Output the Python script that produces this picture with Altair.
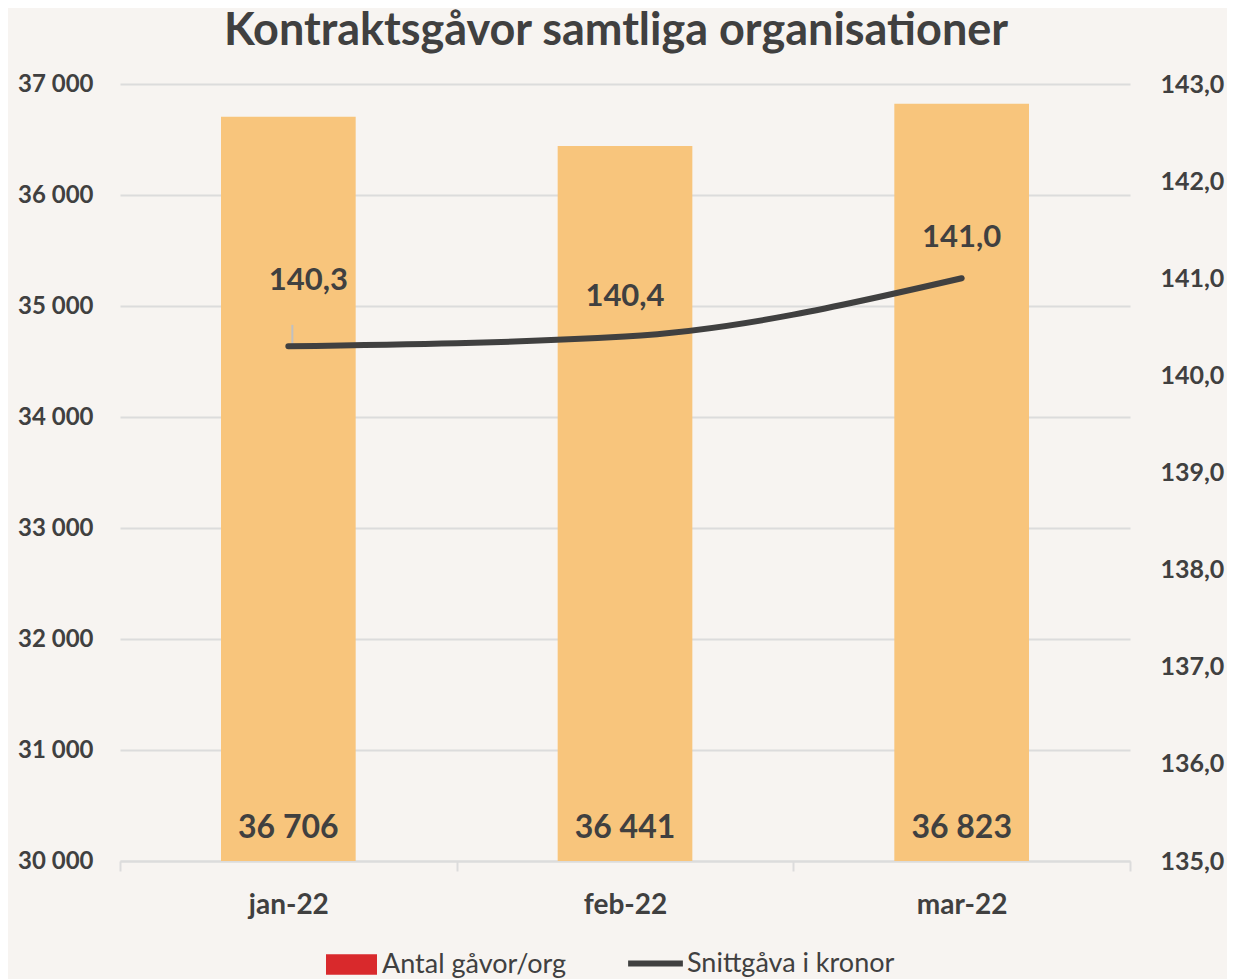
import altair as alt
import pandas as pd

months = ["jan-22", "feb-22", "mar-22"]
gifts = [36706, 36441, 36823]
avg_gift = [140.3, 140.4, 141.0]
left_ticks = [30000, 31000, 32000, 33000, 34000, 35000, 36000, 37000]
right_ticks = [135, 136, 137, 138, 139, 140, 141, 142, 143]
series_names = ["Antal gåvor/org", "Snittgåva i kronor"]

df = pd.DataFrame({"month": months, "gifts": gifts, "avg": avg_gift})

FONT = "Lato"
TXT = "#404040"
BG = "#F7F4F1"
ORANGE = "#F8C57C"
GRID = "#DCDCDC"

x_axis = alt.Axis(
    title=None, labelFontSize=28, labelFont=FONT, labelFontWeight="bold",
    labelColor=TXT, labelPadding=20, tickBand="extent", tickSize=10,
    tickColor=GRID, tickWidth=2, domainColor=GRID, domainWidth=2,
    labelAngle=0, grid=False,
)
x_scale = alt.Scale(paddingInner=0, paddingOuter=0)


def X():
    return alt.X("month:N", sort=months, scale=x_scale, axis=x_axis)


left_scale = alt.Scale(domain=[left_ticks[0], left_ticks[-1]], nice=False, zero=False)
right_scale = alt.Scale(domain=[right_ticks[0], right_ticks[-1]], nice=False, zero=False)

left_axis = alt.Axis(
    title=None, values=left_ticks, domain=False, ticks=False,
    labelFont=FONT, labelFontSize=24, labelFontWeight="bold", labelColor=TXT,
    labelPadding=27, gridColor=GRID, gridWidth=2,
    labelExpr="replace(format(datum.value, ','), ',', ' ')",
)
right_axis = alt.Axis(
    orient="right", title=None, values=right_ticks, domain=False, ticks=False,
    grid=False, labelFont=FONT, labelFontSize=25, labelFontWeight="bold",
    labelColor=TXT, labelPadding=30,
    labelExpr="replace(format(datum.value, '.1f'), '.', ',')",
)

base = alt.Chart(df)

bars = base.mark_bar(color=ORANGE, clip=True, width=alt.RelativeBandSize(0.4)).encode(
    x=X(),
    y=alt.Y("gifts:Q", scale=left_scale, axis=left_axis),
    y2=alt.Y2Datum(left_ticks[0]),
)

# dummy layer for the bar legend entry
legend_bar = base.transform_filter("false").transform_calculate(
    series=f"'{series_names[0]}'"
).mark_bar().encode(
    x=X(),
    y=alt.Y("gifts:Q", scale=left_scale, axis=left_axis),
    fill=alt.Fill(
        "series:N",
        scale=alt.Scale(domain=[series_names[0]], range=["#D9292C"]),
        legend=alt.Legend(
            title=None, orient="none", legendX=206, legendY=855,
            symbolType="M-1,-0.4H1V0.4H-1Z", symbolSize=2601,
            symbolStrokeWidth=0, labelFont=FONT, labelFontSize=27,
            labelColor=TXT, labelOffset=5, labelLimit=400,
        ),
    ),
)

bar_labels = base.transform_calculate(
    lbl="replace(format(datum.gifts, ','), ',', ' ')"
).mark_text(
    font=FONT, fontSize=32, fontWeight="bold", color=TXT, baseline="middle", dy=-33
).encode(
    x=X(),
    y=alt.YDatum(left_ticks[0], scale=left_scale, axis=left_axis),
    text="lbl:N",
)

left_layer = alt.layer(bars, legend_bar, bar_labels)

line = base.transform_calculate(series=f"'{series_names[1]}'").mark_line(
    strokeWidth=6, interpolate="monotone", strokeCap="round"
).encode(
    x=X(),
    y=alt.Y("avg:Q", scale=right_scale, axis=right_axis),
    stroke=alt.Stroke(
        "series:N",
        scale=alt.Scale(domain=[series_names[1]], range=[TXT]),
        legend=alt.Legend(
            title=None, orient="none", legendX=505, legendY=849,
            symbolType="stroke", symbolSize=3000, symbolStrokeWidth=6,
            labelFont=FONT, labelFontSize=27, labelColor=TXT, labelOffset=1,
            labelLimit=400,
        ),
    ),
)

line_label_txt = "replace(format(datum.avg, '.1f'), '.', ',')"
line_labels = base.transform_filter(f"datum.month != '{months[0]}'").transform_calculate(
    lbl=line_label_txt
).mark_text(
    font=FONT, fontSize=31, fontWeight="bold", color=TXT, baseline="middle", dy=-40
).encode(
    x=X(),
    y=alt.Y("avg:Q", scale=right_scale, axis=right_axis),
    text="lbl:N",
)

first_label = base.transform_filter(f"datum.month == '{months[0]}'").transform_calculate(
    lbl=line_label_txt
).mark_text(
    font=FONT, fontSize=31, fontWeight="bold", color=TXT, baseline="middle", dy=-65, dx=20
).encode(
    x=X(),
    y=alt.Y("avg:Q", scale=right_scale, axis=right_axis),
    text="lbl:N",
)

leader = base.transform_filter(f"datum.month == '{months[0]}'").mark_rule(
    color="#C0C0C0", strokeWidth=2, xOffset=4
).encode(
    x=X(),
    y=alt.Y("avg:Q", scale=right_scale, axis=right_axis),
    y2=alt.Y2Datum(140.52),
)

right_layer = alt.layer(leader, line, line_labels, first_label)

chart = alt.layer(left_layer, right_layer).resolve_scale(
    y="independent", fill="independent", stroke="independent"
).properties(
    width=1010,
    height=777,
    title=alt.TitleParams(
        "Kontraktsgåvor samtliga organisationer",
        font=FONT, fontSize=45, fontWeight="bold", color=TXT,
        anchor="middle", offset=18, dx=-9,
    ),
    autosize=alt.AutoSizeParams(type="none"),
    padding={"left": 112, "top": 76, "right": 97, "bottom": 118},
).configure(background=BG).configure_view(stroke=None)

chart.save("out.html", embed_options={"renderer": "svg", "actions": False})
